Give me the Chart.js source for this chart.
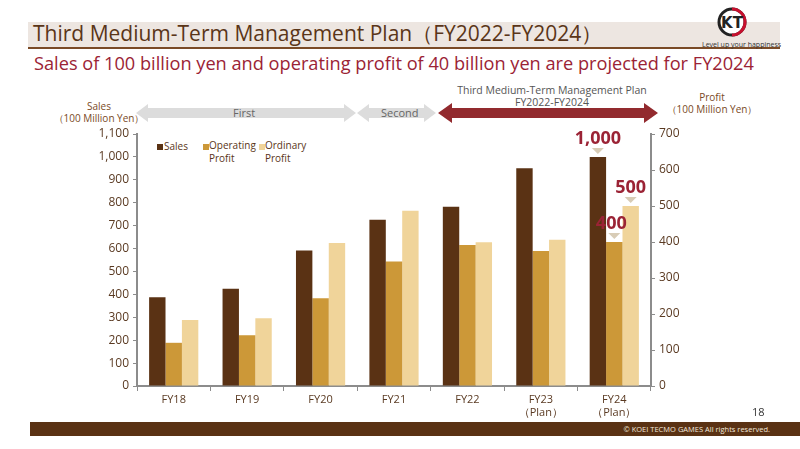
<!DOCTYPE html>
<html>
<head>
<meta charset="utf-8">
<script src="https://cdn.jsdelivr.net/npm/chart.js@4.4.0/dist/chart.umd.min.js"></script>
<style>
  body { margin: 0; width: 800px; height: 449px; background: #fff; overflow: hidden; font-family: "Open Sans", "Noto Sans", sans-serif; }
  #wrap { position: relative; width: 800px; height: 449px; }
  #c { position: absolute; left: 0; top: 0; }
  .abs { position: absolute; white-space: nowrap; }
</style>
</head>
<body>
<div id="wrap">
  <!-- header -->
  <div class="abs" style="left:28px;top:22px;width:752px;height:26px;background:#ede6e1;"></div>
  <div class="abs" style="left:28px;top:47px;width:752px;height:2px;background:#7a4a26;"></div>
  <div class="abs" style="left:33px;top:19px;font-size:21px;color:#5a3518;">Third Medium-Term Management Plan（FY2022-FY2024）</div>
  <div class="abs" style="left:34px;top:51px;font-size:18.2px;color:#9b2335;">Sales of 100 billion yen and operating profit of 40 billion yen are projected for FY2024</div>
  <!-- logo -->
  <svg class="abs" style="left:712px;top:6px" width="40" height="34">
    <circle cx="20" cy="16" r="13" fill="#fff" stroke="#222" stroke-width="3"/>
    <path d="M20 3 A13 13 0 0 1 20 29" fill="none" stroke="#c8102e" stroke-width="3"/>
    <text x="20" y="22" font-size="15" font-weight="bold" text-anchor="middle" fill="#222" font-family="DejaVu Sans">KT</text>
  </svg>
  <div class="abs" style="left:702px;top:40px;font-size:7px;color:#333;">Level up your happiness</div>

  <!-- period arrows -->
  <svg class="abs" style="left:0;top:90px" width="800" height="40">
    <polygon points="136,23 148,14 148,18 344,18 344,14 356,23 344,32 344,28 148,28 148,32" fill="#dcdcdc"/>
    <polygon points="357,23 369,14 369,18 424,18 424,14 436,23 424,32 424,28 369,28 369,32" fill="#dcdcdc"/>
    <polygon points="438,23 452,13 452,18 644,18 644,13 658,23 644,33 644,28 452,28 452,33" fill="#922a2e"/>
  </svg>
  <div class="abs" style="left:233px;top:105px;font-size:11px;color:#666;">First</div>
  <div class="abs" style="left:381px;top:105px;font-size:11px;color:#666;">Second</div>
  <div class="abs" style="left:452px;top:84px;width:200px;text-align:center;font-size:10.5px;line-height:12px;color:#555;white-space:normal;">Third Medium-Term Management Plan<br>FY2022-FY2024</div>

  <!-- axis titles -->
  <div class="abs" style="left:44px;top:100px;width:110px;text-align:center;font-size:10px;line-height:12px;color:#7a4a26;">Sales<br>（100 Million Yen）</div>
  <div class="abs" style="left:652px;top:91px;width:120px;text-align:center;font-size:10px;line-height:12px;color:#7a4a26;">Profit<br>（100 Million Yen）</div>

  <!-- legend -->
  <div class="abs" style="left:157px;top:144px;width:6px;height:6px;background:#5a3214;"></div>
  <div class="abs" style="left:164px;top:139px;font-size:10px;color:#5a3518;">Sales</div>
  <div class="abs" style="left:203px;top:144px;width:6px;height:6px;background:#cc9838;"></div>
  <div class="abs" style="left:209px;top:139px;font-size:10px;line-height:12.5px;color:#5a3518;">Operating<br>Profit</div>
  <div class="abs" style="left:259px;top:144px;width:6px;height:6px;background:#f0d49a;"></div>
  <div class="abs" style="left:265px;top:139px;font-size:10px;line-height:12.5px;color:#5a3518;">Ordinary<br>Profit</div>

  <canvas id="c" width="800" height="449"></canvas>

  <!-- footer -->
  <div class="abs" style="left:752px;top:404px;font-size:11px;color:#333;">18</div>
  <div class="abs" style="left:30px;top:422px;width:770px;height:14px;background:#5a3214;"></div>
  <div class="abs" style="left:560px;top:424px;width:210px;text-align:right;font-size:7.5px;color:#f2e8dc;">© KOEI TECMO GAMES All rights reserved.</div>
</div>

<script>
const categories = ["FY18", "FY19", "FY20", "FY21", "FY22", ["FY23", "（Plan）"], ["FY24", "（Plan）"]];
const sales = [387, 424, 591, 726, 782, 951, 1000];
const operatingProfit = [120, 141, 244, 346, 392, 375, 400];
const ordinaryProfit = [183, 188, 397, 487, 399, 406, 500];
const salesTicks = { min: 0, max: 1100, step: 100 };
const profitTicks = { min: 0, max: 700, step: 100 };
// highlighted plan values: [datasetIndex, categoryIndex, label]
const callouts = [[0, 6, "1,000"], [1, 6, "400"], [2, 6, "500"]];

const tickColor = "#5a3a22";
const axisGray = "#8c8c8c";

const calloutPlugin = {
  id: "callouts",
  afterDatasetsDraw(chart) {
    const ctx = chart.ctx;
    ctx.save();
    callouts.forEach(([ds, i, label]) => {
      const bar = chart.getDatasetMeta(ds).data[i];
      const x = bar.x, y = bar.y;
      ctx.fillStyle = "#d8ccb6";
      ctx.beginPath();
      ctx.moveTo(x - 6, y - 9);
      ctx.lineTo(x + 6, y - 9);
      ctx.lineTo(x, y - 3);
      ctx.closePath();
      ctx.fill();
      ctx.fillStyle = "#9b2335";
      ctx.font = "bold 18px 'Open Sans', 'Noto Sans', sans-serif";
      ctx.textAlign = "center";
      ctx.textBaseline = "bottom";
      ctx.fillText(label, ds === 1 ? x - 3 : x, y - 9);
    });
    ctx.restore();
  }
};

new Chart(document.getElementById("c"), {
  type: "bar",
  data: {
    labels: categories,
    datasets: [
      { label: "Sales", data: sales, backgroundColor: "#5a3214", yAxisID: "y" },
      { label: "Operating Profit", data: operatingProfit, backgroundColor: "#cc9838", yAxisID: "y1" },
      { label: "Ordinary Profit", data: ordinaryProfit, backgroundColor: "#f0d49a", yAxisID: "y1" }
    ]
  },
  options: {
    responsive: false,
    animation: false,
    layout: { padding: { left: 70, right: 100, top: 134, bottom: 23 } },
    datasets: { bar: { categoryPercentage: 0.67, barPercentage: 1.0 } },
    plugins: { legend: { display: false }, tooltip: { enabled: false } },
    scales: {
      x: {
        afterFit: s => { s.height = 40; },
        grid: { drawOnChartArea: false, color: axisGray, tickLength: 5 },
        border: { color: axisGray, width: 2 },
        ticks: { color: tickColor, font: { size: 11, family: "'Open Sans', 'Noto Sans', sans-serif" }, padding: 2, maxRotation: 0 }
      },
      y: {
        position: "left",
        min: salesTicks.min, max: salesTicks.max,
        afterFit: s => { s.width = 67; },
        grid: { drawOnChartArea: false, color: axisGray, tickLength: 4 },
        border: { color: axisGray, width: 2 },
        ticks: { stepSize: salesTicks.step, color: tickColor, font: { size: 12, family: "'Open Sans', 'Noto Sans', sans-serif" }, padding: 4 }
      },
      y1: {
        position: "right",
        min: profitTicks.min, max: profitTicks.max,
        afterFit: s => { s.width = 49; },
        grid: { drawOnChartArea: false, color: axisGray, tickLength: 4 },
        border: { color: axisGray, width: 2 },
        ticks: { stepSize: profitTicks.step, color: tickColor, font: { size: 12, family: "'Open Sans', 'Noto Sans', sans-serif" }, padding: 4 }
      }
    }
  },
  plugins: [calloutPlugin]
});
</script>
</body>
</html>
